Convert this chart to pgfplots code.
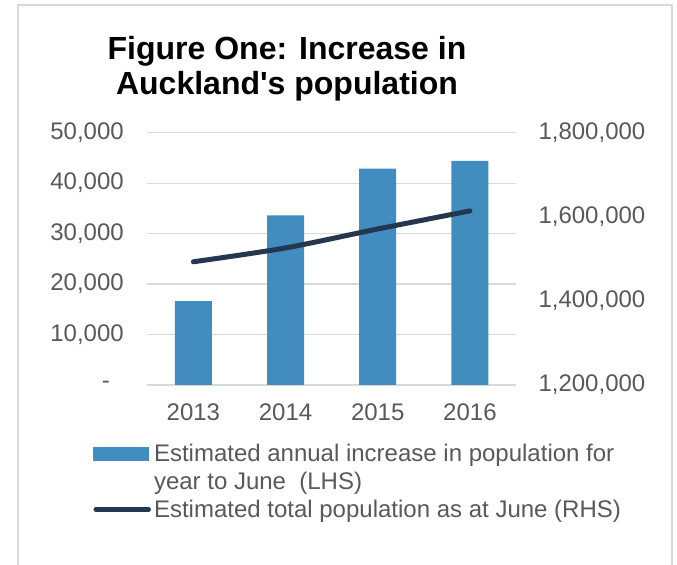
\documentclass[border=0pt]{standalone}
\usepackage{pgfplots}
\pgfplotsset{compat=1.18}
\usepackage{fontspec}
\setmainfont{Liberation Sans}
\newfontfamily\plainfont{Liberation Sans}
\definecolor{barblue}{RGB}{65,141,191}
\definecolor{linenavy}{RGB}{37,55,80}
\definecolor{txtgray}{RGB}{89,89,89}
\definecolor{gridgray}{RGB}{217,217,217}
\begin{document}
\begin{tikzpicture}[x=1bp,y=1bp]
\useasboundingbox (0,0) rectangle (677,565);
\fill[white] (0,0) rectangle (677,565);
\draw[gridgray, line width=1.5bp] (18,-5) -- (18,560) -- (672,560) -- (672,-5);
\node[font=\plainfont\fontsize{32bp}{35bp}\selectfont\bfseries, align=center, text=black] at (287,496) {Figure One: Increase in\\Auckland's population};
\begin{axis}[
  at={(147.3bp,180bp)}, anchor=south west,
  scale only axis, width=368.7bp, height=252.3bp,
  xmin=-0.5, xmax=3.5, ymin=0, ymax=50000,
  scaled ticks=false,
  xtick={0,1,2,3}, xticklabels={2013,2014,2015,2016},
  ytick={0,10000,20000,30000,40000,50000},
  yticklabels={{-\hspace*{14bp}},{10,000},{20,000},{30,000},{40,000},{50,000}},
  axis line style={draw=none},
  tick style={draw=none},
  ymajorgrids, major grid style={gridgray, line width=1.3bp},
  ticklabel style={font=\fontsize{24bp}{28bp}\selectfont, text=txtgray},
  yticklabel style={xshift=-20bp},
  xticklabel style={yshift=-15bp},
  /pgf/number format/assume math mode=true,
  clip=false,
]
\addplot[ybar, bar width=37bp, fill=barblue, draw=none, bar shift=0pt] coordinates {(0,16600) (1,33600) (2,42900) (3,44400)};
\end{axis}
\begin{axis}[
  at={(147.3bp,180bp)}, anchor=south west,
  scale only axis, width=368.7bp, height=252.3bp,
  xmin=-0.5, xmax=3.5, ymin=1200000, ymax=1800000,
  scaled ticks=false,
  axis y line*=right, axis x line=none,
  xtick=\empty,
  ytick={1200000,1400000,1600000,1800000},
  yticklabels={{1,200,000},{1,400,000},{1,600,000},{1,800,000}},
  axis line style={draw=none},
  tick style={draw=none},
  ticklabel style={font=\fontsize{24bp}{28bp}\selectfont, text=txtgray},
  yticklabel style={xshift=19bp},
  /pgf/number format/assume math mode=true,
  clip=false,
  legend style={at={(-0.147,-0.23)}, anchor=north west, draw=none, fill=none,
    font=\fontsize{24bp}{27bp}\selectfont, text=txtgray, row sep=7bp,
    column sep=2bp, inner sep=0pt, nodes={inner sep=1bp}},
  legend cell align=left,
]
\addlegendimage{legend image code/.code={\fill[barblue] (0bp,-6.5bp) rectangle (55bp,6.5bp);}}
\addlegendentry{Estimated annual increase in population for}
\addlegendimage{empty legend}
\addlegendentry{year to June\ \ (LHS)}
\addplot[linenavy, line width=5bp, line cap=round, smooth, tension=0.5, mark=none,
  legend image code/.code={\draw[linenavy, line width=5bp, line cap=round] (2.5bp,0) -- (55bp,0);}]
  coordinates {(0,1493000) (1,1526000) (2,1571000) (3,1614000)};
\addlegendentry{Estimated total population as at June (RHS)}
\end{axis}
\end{tikzpicture}
\end{document}
